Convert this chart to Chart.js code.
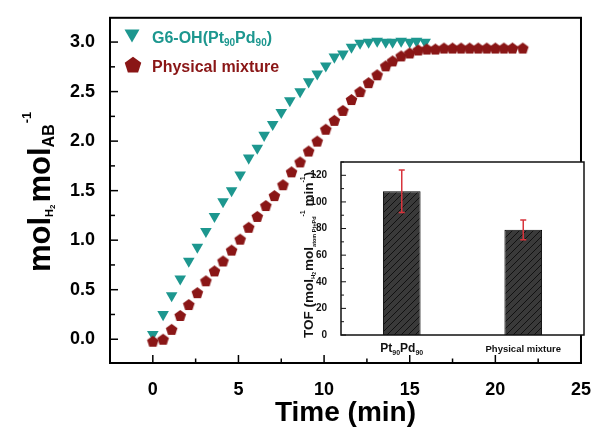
<!DOCTYPE html>
<html>
<head>
<meta charset="utf-8">
<title>H2 release vs time</title>
<script src="https://cdn.jsdelivr.net/npm/chart.js@4.4.1/dist/chart.umd.min.js"></script>
<style>
    body { margin: 0; background: #fff; }
    #wrap { position: relative; width: 599px; height: 433px; }
    #mainChart { position: absolute; left: 0; top: 0; }
    #insetChart { position: absolute; left: 285px; top: 150px; }
</style>
</head>
<body>
<div id="wrap">
    <canvas id="mainChart" width="599" height="433"></canvas>
    <canvas id="insetChart" width="305" height="210"></canvas>
</div>
<script>
// main plot: mol H2 / mol AB against time
const g6Time = [0, 0.6, 1.1, 1.6, 2.1, 2.6, 3.1, 3.6, 4.1, 4.6, 5.1, 5.6, 6.1, 6.5, 7.0, 7.5, 8.0, 8.6, 9.1, 9.6,
    10.1, 10.6, 11.1, 11.6, 12.1, 12.6, 13.1, 13.6, 14.0, 14.5, 15.0, 15.4, 15.9];
const g6Mol = [0.05, 0.25, 0.44, 0.61, 0.79, 0.93, 1.09, 1.24, 1.39, 1.50, 1.66, 1.83, 1.93, 2.06, 2.17, 2.29, 2.41, 2.50, 2.60, 2.68,
    2.76, 2.85, 2.88, 2.95, 2.99, 3.00, 3.01, 3.00, 3.00, 3.01, 3.00, 3.01, 3.00];

const mixTime = [0, 0.6, 1.1, 1.6, 2.1, 2.6, 3.1, 3.6, 4.1, 4.6, 5.1, 5.6, 6.1, 6.6, 7.1, 7.6, 8.1, 8.6, 9.1, 9.6,
    10.1, 10.6, 11.1, 11.6, 12.1, 12.6, 13.1, 13.6, 14.0, 14.5, 15.0, 15.5, 16.0, 16.5, 17.0, 17.5, 18.0, 18.5, 19.0, 19.5,
    20.0, 20.5, 21.0, 21.6];
const mixMol = [-0.02, 0.00, 0.10, 0.24, 0.35, 0.47, 0.59, 0.69, 0.79, 0.90, 1.01, 1.13, 1.24, 1.35, 1.45, 1.56, 1.69, 1.79, 1.90, 2.00,
    2.12, 2.21, 2.31, 2.42, 2.50, 2.59, 2.67, 2.76, 2.81, 2.86, 2.89, 2.92, 2.93, 2.93, 2.94, 2.94, 2.94, 2.94, 2.94, 2.94,
    2.94, 2.94, 2.94, 2.94];

// inset: TOF bars
const tofCategories = ['Pt90Pd90', 'Physical mixture'];
const tofValues = [108, 79];
const tofErrors = [16, 7.5];

const FONT = "'Liberation Sans', Arial, sans-serif";
const TEAL = '#1d978f';
const DARKRED = '#8a1616';

Chart.defaults.font.family = FONT;
Chart.defaults.font.weight = 'bold';
Chart.defaults.color = '#000';

function toPoints(xs, ys) {
    return xs.map((t, i) => ({ x: t, y: ys[i] }));
}

function makePentagon(r, color) {
    const c = document.createElement('canvas');
    const s = Math.ceil(r * 2 + 2);
    c.width = s; c.height = s;
    const g = c.getContext('2d');
    g.fillStyle = color;
    pentagonPath(g, s / 2, s / 2 + r * 0.1, r);
    g.fill();
    return c;
}

function pentagonPath(g, cx, cy, r) {
    g.beginPath();
    for (let i = 0; i < 5; i++) {
        const a = -Math.PI / 2 + i * 2 * Math.PI / 5;
        const px = cx + r * Math.cos(a), py = cy + r * Math.sin(a);
        if (i === 0) g.moveTo(px, py); else g.lineTo(px, py);
    }
    g.closePath();
}

// text with sub/superscripts, runs = [{t, size, dy, gap}]
function drawRich(ctx, runs, x, y, align) {
    let w = 0;
    runs.forEach(r => {
        ctx.font = `bold ${r.size}px ${FONT}`;
        w += ctx.measureText(r.t).width + (r.gap || 0);
    });
    let cx = align === 'center' ? x - w / 2 : x;
    ctx.textBaseline = 'alphabetic';
    ctx.textAlign = 'left';
    runs.forEach(r => {
        ctx.font = `bold ${r.size}px ${FONT}`;
        ctx.fillText(r.t, cx, y + (r.dy || 0));
        cx += ctx.measureText(r.t).width + (r.gap || 0);
    });
}

function insideTicks(ctx, scale, area, horizontal, majorLen, minorLen) {
    const vals = scale.ticks.map(t => t.value);
    const step = vals[1] - vals[0];
    const all = [];
    vals.forEach(v => { all.push([v, majorLen]); all.push([v + step / 2, minorLen]); });
    all.forEach(([v, len]) => {
        if (v > scale.max || v < scale.min) return;
        const p = scale.getPixelForValue(v);
        ctx.beginPath();
        if (horizontal) { ctx.moveTo(p, area.bottom); ctx.lineTo(p, area.bottom - len); }
        else { ctx.moveTo(area.left, p); ctx.lineTo(area.left + len, p); }
        ctx.stroke();
    });
}

const mainDeco = {
    id: 'mainDeco',
    afterDraw(chart) {
        const { ctx, chartArea: a, scales } = chart;
        ctx.save();
        ctx.strokeStyle = '#000';
        ctx.lineWidth = 1.5;
        insideTicks(ctx, scales.x, a, true, 8, 4.5);
        insideTicks(ctx, scales.y, a, false, 8, 5);
        ctx.lineWidth = 2;
        ctx.strokeRect(a.left, a.top, a.right - a.left, a.bottom - a.top);

        // legend
        ctx.fillStyle = TEAL;
        ctx.beginPath();
        ctx.moveTo(124.5, 29.5); ctx.lineTo(139.5, 29.5); ctx.lineTo(132, 42.5);
        ctx.closePath(); ctx.fill();
        drawRich(ctx, [
            { t: 'G6-OH(Pt', size: 16 }, { t: '90', size: 10, dy: 3 },
            { t: 'Pd', size: 16 }, { t: '90', size: 10, dy: 3 }, { t: ')', size: 16 }
        ], 152, 43);
        ctx.fillStyle = DARKRED;
        pentagonPath(ctx, 133, 65.5, 8.7); ctx.fill();
        drawRich(ctx, [{ t: 'Physical mixture', size: 16 }], 152, 71.5);

        // axis titles
        ctx.fillStyle = '#000';
        drawRich(ctx, [{ t: 'Time (min)', size: 28 }], (a.left + a.right) / 2, 421, 'center');
        ctx.translate(50, 272);
        ctx.rotate(-Math.PI / 2);
        drawRich(ctx, [
            { t: 'mol', size: 31 }, { t: 'H', size: 11, dy: 3 }, { t: '2', size: 8, dy: 5, gap: 2 },
            { t: 'mol', size: 31 }, { t: 'AB', size: 16, dy: 4, gap: 1 }, { t: '-1', size: 13, dy: -19 }
        ], 0, 0);
        ctx.restore();
    }
};

const pentagon = makePentagon(6.1, DARKRED);

new Chart(document.getElementById('mainChart'), {
    type: 'scatter',
    data: {
        datasets: [
            {
                label: 'Physical mixture',
                data: toPoints(mixTime, mixMol),
                pointStyle: pentagon,
                order: 0
            },
            {
                label: 'G6-OH(Pt90Pd90)',
                data: toPoints(g6Time, g6Mol),
                pointStyle: 'triangle',
                rotation: 180,
                pointRadius: 6.7,
                backgroundColor: TEAL,
                borderWidth: 0,
                order: 1
            }
        ]
    },
    options: {
        responsive: false,
        animation: false,
        layout: { padding: { top: 14, right: 14, left: 0, bottom: 0 } },
        plugins: { legend: { display: false }, tooltip: { enabled: false } },
        scales: {
            x: {
                type: 'linear', min: -2.5, max: 25,
                grid: { display: false }, border: { display: false },
                ticks: { stepSize: 5, includeBounds: false, padding: 8, maxRotation: 0, font: { size: 18 }, color: '#000' },
                afterFit: s => { s.height = 70; }
            },
            y: {
                min: -0.24, max: 3.245,
                grid: { display: false }, border: { display: false },
                ticks: { stepSize: 0.5, includeBounds: false, padding: 7, font: { size: 18 }, color: '#000',
                    callback: v => v.toFixed(1) },
                afterFit: s => { s.width = 110; }
            }
        }
    },
    plugins: [mainDeco]
});

// inset chart
const insetCanvas = document.getElementById('insetChart');

function makeHatch(ctx) {
    const c = document.createElement('canvas');
    c.width = 7; c.height = 7;
    const g = c.getContext('2d');
    g.fillStyle = '#3a3a3a';
    g.fillRect(0, 0, 7, 7);
    g.strokeStyle = '#111';
    g.lineWidth = 1;
    g.beginPath();
    g.moveTo(-1, 8); g.lineTo(8, -1);
    g.moveTo(-1, 1); g.lineTo(1, -1);
    g.moveTo(6, 8); g.lineTo(8, 6);
    g.stroke();
    return ctx.createPattern(c, 'repeat');
}

const insetDeco = {
    id: 'insetDeco',
    beforeDraw(chart) {
        const { ctx, chartArea: a } = chart;
        ctx.save();
        ctx.fillStyle = '#fff';
        ctx.fillRect(a.left, a.top, a.right - a.left, a.bottom - a.top);
        ctx.restore();
    },
    afterDatasetsDraw(chart) {
        const { ctx, scales: { x, y } } = chart;
        ctx.save();
        ctx.strokeStyle = '#d8343c';
        ctx.lineWidth = 1.5;
        tofValues.forEach((v, i) => {
            const px = x.getPixelForValue(i);
            const top = y.getPixelForValue(v + tofErrors[i]);
            const bot = y.getPixelForValue(v - tofErrors[i]);
            ctx.beginPath();
            ctx.moveTo(px, top); ctx.lineTo(px, bot);
            ctx.moveTo(px - 3, top); ctx.lineTo(px + 3, top);
            ctx.moveTo(px - 3, bot); ctx.lineTo(px + 3, bot);
            ctx.stroke();
        });
        ctx.restore();
    },
    afterDraw(chart) {
        const { ctx, chartArea: a, scales: { x, y } } = chart;
        ctx.save();
        ctx.strokeStyle = '#111';
        ctx.lineWidth = 1;
        insideTicks(ctx, y, a, false, 5, 3);
        ctx.lineWidth = 1.5;
        ctx.strokeRect(a.left, a.top, a.right - a.left, a.bottom - a.top);

        ctx.fillStyle = '#111';
        drawRich(ctx, [
            { t: 'Pt', size: 12 }, { t: '90', size: 7, dy: 3 },
            { t: 'Pd', size: 12 }, { t: '90', size: 7, dy: 3 }
        ], x.getPixelForValue(0), a.bottom + 17, 'center');
        drawRich(ctx, [{ t: tofCategories[1], size: 9.5 }], x.getPixelForValue(1), a.bottom + 17, 'center');

        ctx.translate(28, a.bottom + 3);
        ctx.rotate(-Math.PI / 2);
        drawRich(ctx, [
            { t: 'TOF (mol', size: 13.5 }, { t: 'H', size: 6, dy: 2 }, { t: '2', size: 5, dy: 3, gap: 1 },
            { t: 'mol', size: 13.5 }, { t: 'atom Pt+Pd', size: 5.5, dy: 2.5 },
            { t: '-1', size: 7, dy: -8 }, { t: ' min', size: 13.5 }, { t: '-1', size: 7, dy: -8 },
            { t: ')', size: 13.5 }
        ], 0, 0);
        ctx.restore();
    }
};

new Chart(insetCanvas, {
    type: 'bar',
    data: {
        labels: tofCategories,
        datasets: [{
            data: tofValues,
            backgroundColor: makeHatch(insetCanvas.getContext('2d')),
            borderColor: '#000',
            borderWidth: 1,
            categoryPercentage: 1,
            barPercentage: 0.31
        }]
    },
    options: {
        responsive: false,
        animation: false,
        layout: { padding: { top: 6, right: 6, left: 0, bottom: 0 } },
        plugins: { legend: { display: false }, tooltip: { enabled: false } },
        scales: {
            x: {
                grid: { display: false }, border: { display: false },
                ticks: { display: false },
                afterFit: s => { s.height = 25; }
            },
            y: {
                min: 0, max: 130,
                grid: { display: false }, border: { display: false },
                ticks: { stepSize: 20, includeBounds: false, padding: 6, font: { size: 10 }, color: '#111' },
                afterFit: s => { s.width = 56; }
            }
        }
    },
    plugins: [insetDeco]
});
</script>
</body>
</html>
